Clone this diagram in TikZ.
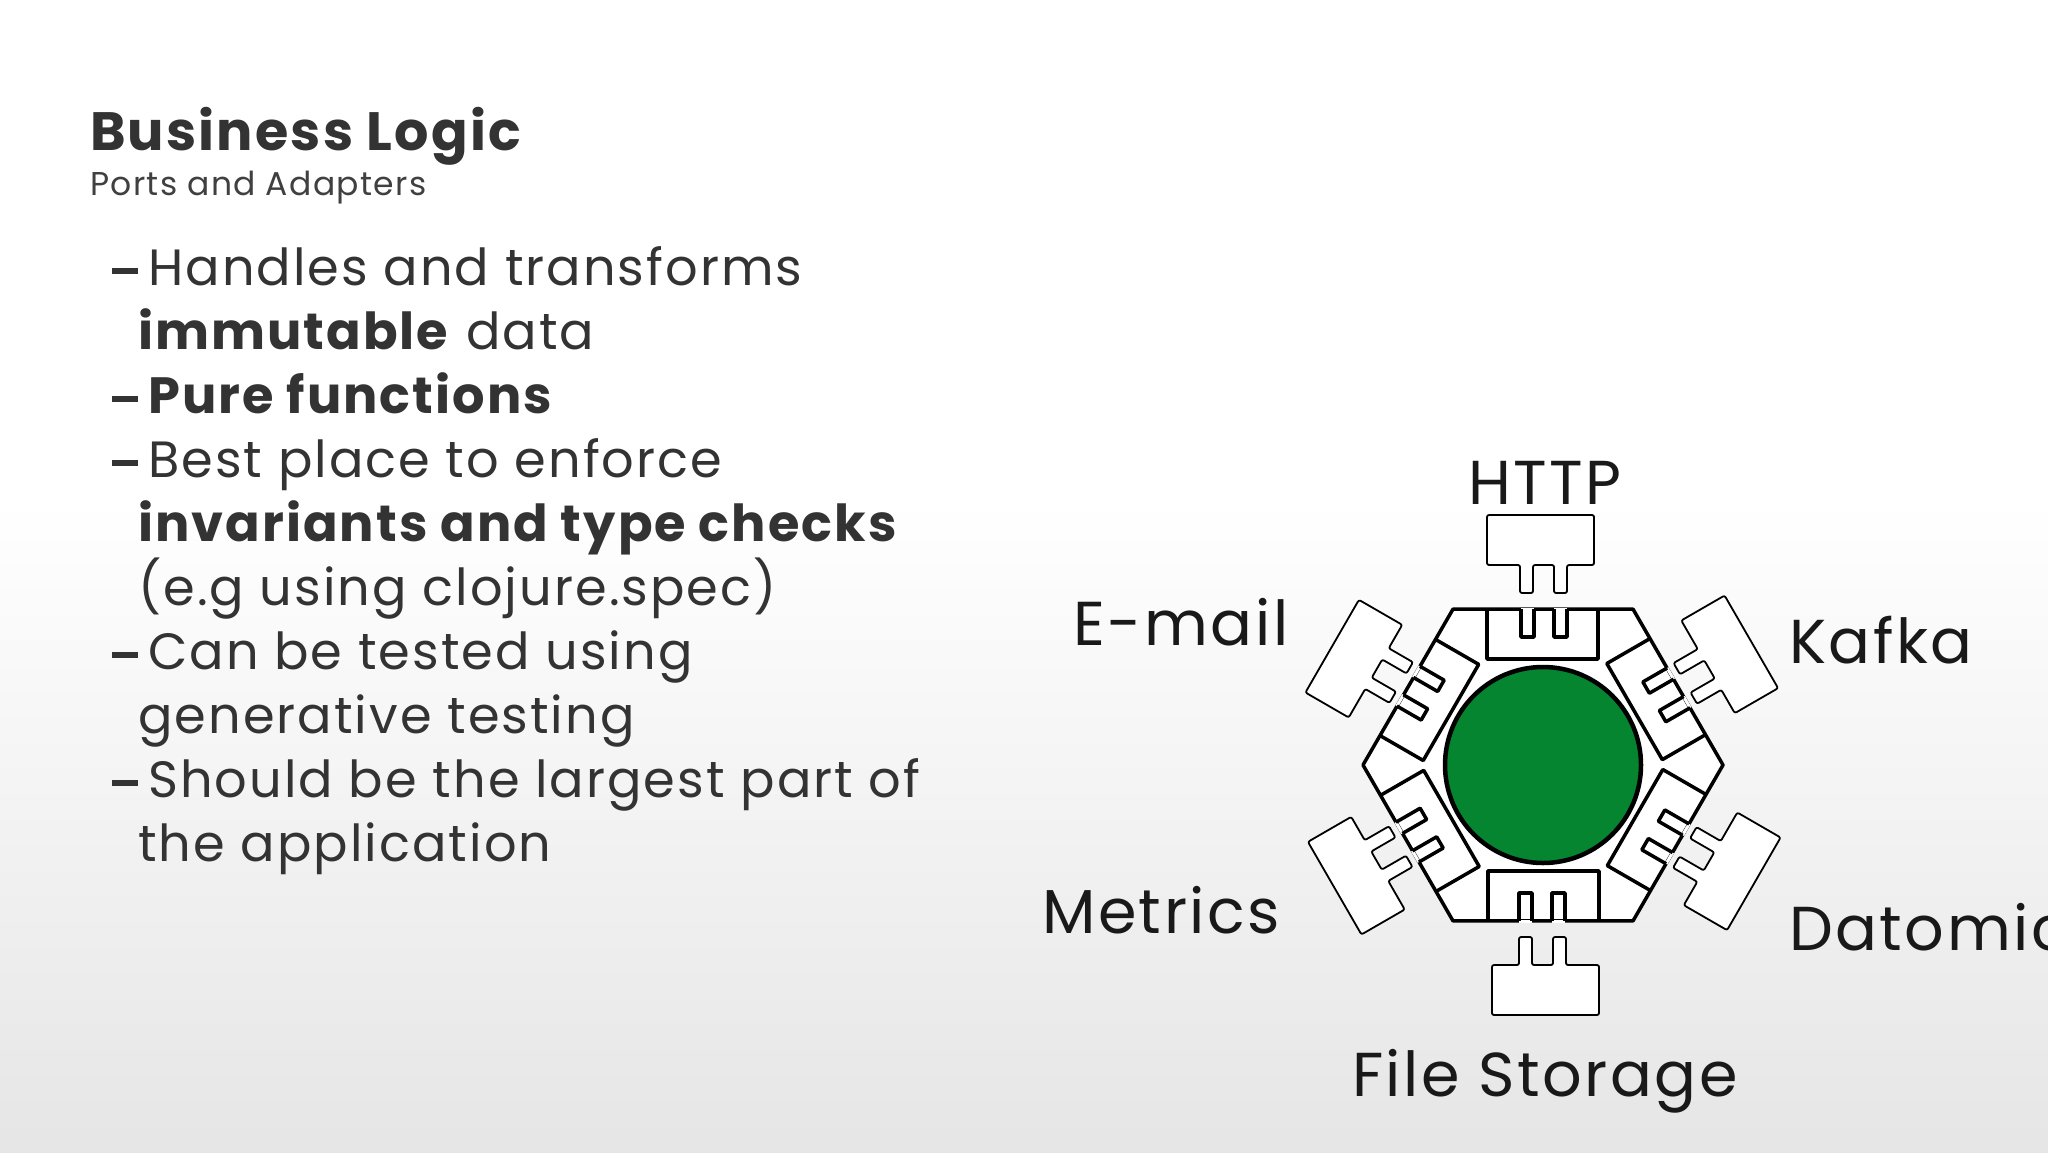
\documentclass[tikz,border=0pt]{standalone}
\usepackage{fontspec}
\setmainfont{Poppins}[LetterSpace=4]
\begin{document}
\begin{tikzpicture}[x=1pt,y=-1pt,
  txt/.style={anchor=base west,inner sep=0,text=black!80,font=\fontsize{51}{60}\selectfont},
  lbl/.style={inner sep=0,text=black!90,font=\fontsize{62}{70}\selectfont},
  sock/.style={line width=3.5pt,black,line join=round},
  plug/.style={line width=1.8pt,black,line join=round,rounded corners=2pt}]
\useasboundingbox (0,0) rectangle (2048,1152);
\fill[white] (0,0) rectangle (2048,501);
\shade[top color=white,bottom color=black!10] (0,500) rectangle (2048,1152);
% title
\node[txt,font=\fontsize{54}{60}\selectfont\bfseries] (t) at (90,150) {Business Logic};
\node[txt,font=\fontsize{33}{40}\selectfont,text=black!75] (st) at (90,195) {Ports and Adapters};
% bullets
\foreach \y/\d/\t [count=\i] in {
 285/1/{Handles and transforms},
 349/0/{\textbf{immutable} data},
 413/1/{\textbf{Pure functions}},
 477/1/{Best place to enforce},
 541/0/{\textbf{invariants and type checks}},
 605/0/{(e.g using clojure.spec)},
 669/1/{Can be tested using},
 733/0/{generative testing},
 797/1/{Should be the largest part of},
 861/0/{the application}}{
 \ifnum\d=1
  \node[txt] (b\i) at (148,\y) {\t};
  \fill[black!80] (112,\y-17) rectangle (138,\y-11);
 \else
  \node[txt] (b\i) at (138,\y) {\t};
 \fi
}
% hexagon
\begin{scope}[shift={(1543,765)}]
\fill[white] (0:180) \foreach \a in {60,120,...,300}{ -- (\a:180)} -- cycle;
\draw[sock] (0:180) \foreach \a in {60,120,...,300}{ -- (\a:180)} -- cycle;
\foreach \r/\o in {0/0,60/8,120/8,180/0,240/8,300/8}{
 \begin{scope}[rotate=\r]
  \fill[white] (-22,-157.5) rectangle (-9,-154.5);
  \fill[white] (11,-157.5) rectangle (24,-154.5);
  \draw[sock] (-56,-156) -- (-56,-106) -- (55,-106) -- (55,-156);
  \draw[sock] (-22,-156) -- (-22,-128) -- (-9,-128) -- (-9,-156);
  \draw[sock] (11,-156) -- (11,-128) -- (24,-128) -- (24,-156);
  \begin{scope}[yshift=-\o]
  \draw[plug,fill=white] (-56,-200) -- (-23,-200) -- (-23,-172) -- (-10,-172) -- (-10,-200)
    -- (11,-200) -- (11,-172) -- (24,-172) -- (24,-200) -- (51,-200) -- (51,-250) -- (-56,-250) -- cycle;
  \end{scope}
 \end{scope}
}
\draw[line width=4.5pt,fill={rgb,255:red,6;green,133;blue,48}] (0,0) circle (98);
\end{scope}
% labels
\node[lbl] (http) at (1545,483) {HTTP};
\node[lbl] (email) at (1181,622) {E-mail};
\node[lbl,anchor=west] (kafka) at (1789,640) {Kafka};
\node[lbl] (metrics) at (1161,910) {Metrics};
\node[lbl,anchor=west] (datomic) at (1789,927) {Datomic};
\node[lbl] (fs) at (1545,1081) {File Storage};
\end{tikzpicture}
\end{document}
